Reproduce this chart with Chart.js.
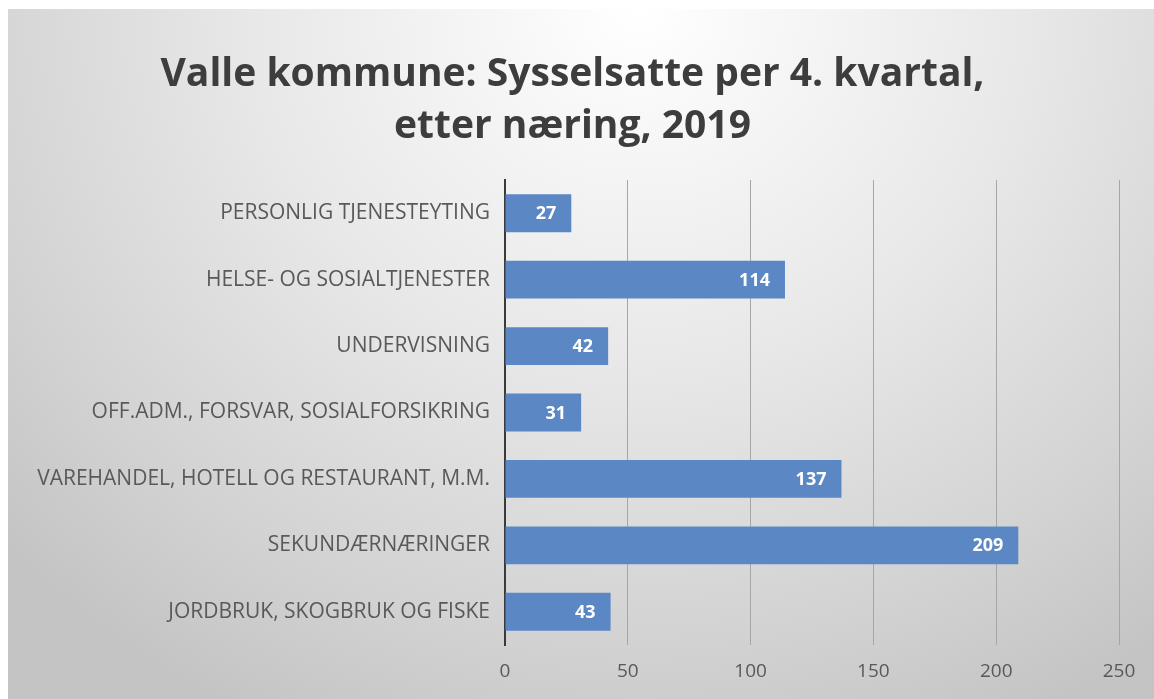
<!DOCTYPE html>
<html>
<head>
<meta charset="utf-8">
<script src="https://cdn.jsdelivr.net/npm/chart.js@4.4.1/dist/chart.umd.min.js"></script>
<style>
  html, body { margin: 0; padding: 0; background: #fff; }
  #wrap {
    position: absolute; left: 8px; top: 9px; width: 1146px; height: 690px;
    background: radial-gradient(ellipse 75% 115% at 55% 0%, #ffffff 0%, #e8e8e8 45%, #d2d2d2 80%, #c4c4c4 100%);
  }
</style>
</head>
<body>
<div id="wrap"><canvas id="chart" width="1146" height="690"></canvas></div>
<script>
// categories, top to bottom as shown
const categories = [
    "PERSONLIG TJENESTEYTING",
    "HELSE- OG SOSIALTJENESTER",
    "UNDERVISNING",
    "OFF.ADM., FORSVAR, SOSIALFORSIKRING",
    "VAREHANDEL, HOTELL OG RESTAURANT, M.M.",
    "SEKUNDÆRNÆRINGER",
    "JORDBRUK, SKOGBRUK OG FISKE"
];
const employed = [27, 114, 42, 31, 137, 209, 43];
const xTicks = [0, 50, 100, 150, 200, 250];

const fontFamily = "'Open Sans', 'Liberation Sans', sans-serif";

// white value labels inside the bar ends
const valueLabels = {
    id: "valueLabels",
    afterDatasetsDraw(chart) {
        const ctx = chart.ctx;
        const meta = chart.getDatasetMeta(0);
        ctx.save();
        ctx.font = "bold 18px " + fontFamily;
        ctx.fillStyle = "#ffffff";
        ctx.textAlign = "right";
        ctx.textBaseline = "middle";
        meta.data.forEach((bar, i) => {
            ctx.fillText(String(employed[i]), bar.x - 15, bar.y + 1);
        });
        ctx.restore();
    }
};

new Chart(document.getElementById("chart").getContext("2d"), {
    type: "bar",
    data: {
        labels: categories,
        datasets: [{
            label: "Sysselsatte",
            data: employed,
            backgroundColor: "#5b87c5",
            borderWidth: 0,
            categoryPercentage: 1,
            barPercentage: 0.57
        }]
    },
    options: {
        indexAxis: "y",
        responsive: false,
        animation: false,
        layout: { padding: { left: 18, right: 35, top: 0, bottom: 0 } },
        plugins: {
            legend: { display: false },
            tooltip: { enabled: false },
            title: {
                display: true,
                text: ["Valle kommune: Sysselsatte per 4. kvartal,", "etter næring, 2019"],
                color: "#3d3d3d",
                font: { family: fontFamily, size: 39, weight: "bold", lineHeight: 52 / 39 },
                padding: { top: 40, bottom: 27 }
            }
        },
        scales: {
            x: {
                min: xTicks[0],
                max: xTicks[xTicks.length - 1],
                afterBuildTicks: (scale) => { scale.ticks = xTicks.map(v => ({ value: v })); },
                afterFit: (scale) => { scale.height = 54; },
                border: { display: false },
                grid: { color: "#a6a6a6", lineWidth: 1, drawTicks: false },
                ticks: {
                    color: "#595959",
                    padding: 15,
                    font: { family: fontFamily, size: 19 }
                }
            },
            y: {
                afterFit: (scale) => { scale.width = 479; },
                border: { display: true, color: "#3a3a3a", width: 2 },
                grid: { display: false, drawTicks: false },
                ticks: {
                    color: "#595959",
                    padding: 15,
                    font: { family: fontFamily, size: 21 }
                }
            }
        }
    },
    plugins: [valueLabels]
});
</script>
</body>
</html>
